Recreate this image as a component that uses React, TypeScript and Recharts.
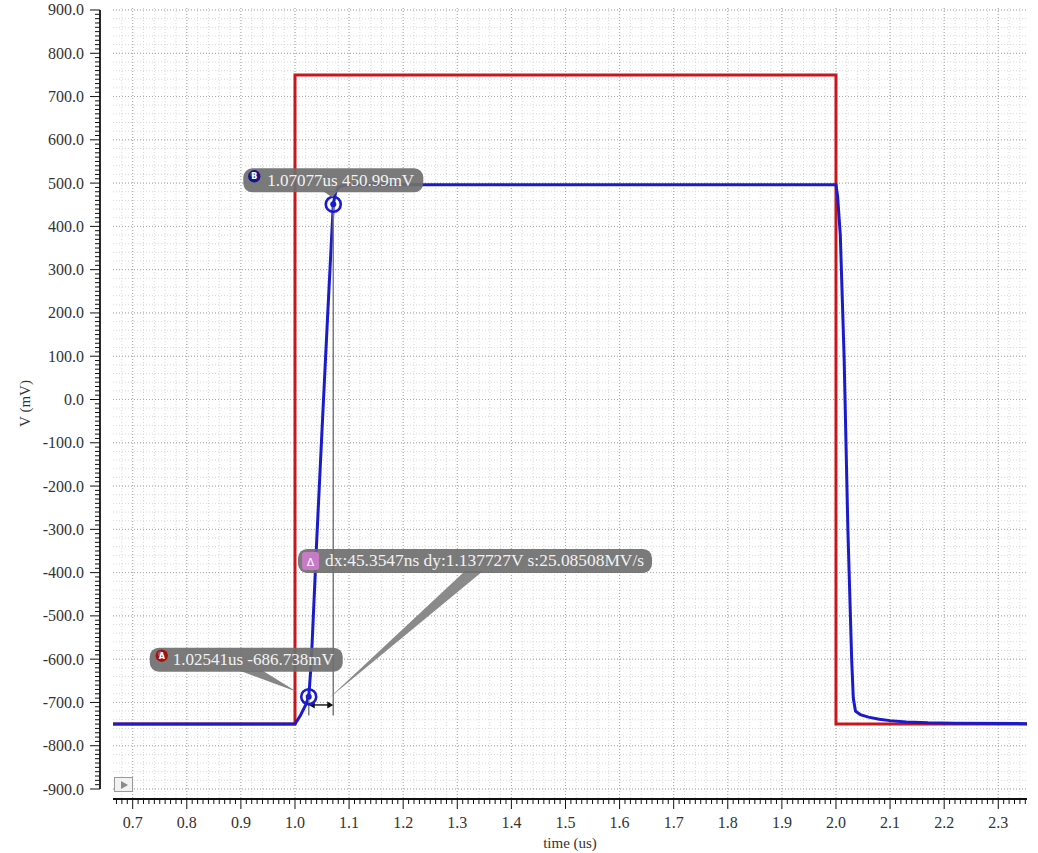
import React from 'react';
import {
  LineChart,
  Line,
  XAxis,
  YAxis,
  CartesianGrid,
  ReferenceDot,
  ReferenceLine,
  Customized,
} from 'recharts';

// stimulus (red) and response (blue) waveforms, time in us, voltage in mV
const stimTime = [0.6636, 1.0, 1.0, 2.0, 2.0, 2.3531];
const stimVolt = [-750, -750, 750, 750, -750, -750];

const outTime = [
  0.6636, 1.0, 1.01, 1.02, 1.02541, 1.03, 1.04, 1.05, 1.06, 1.07077, 1.075, 1.08, 1.09, 1.1,
  2.0, 2.003, 2.008, 2.015, 2.022, 2.029, 2.032, 2.036, 2.045, 2.06, 2.08, 2.1, 2.13, 2.17,
  2.22, 2.3531,
];
const outVolt = [
  -750, -750, -730, -705, -686.738, -610, -330, -70, 185, 450.99, 478, 490, 495, 496,
  496, 470, 380, 100, -300, -600, -690, -720, -728, -734, -739, -742, -745, -747,
  -748, -749,
];

const xMajorTicks = [0.7, 0.8, 0.9, 1.0, 1.1, 1.2, 1.3, 1.4, 1.5, 1.6, 1.7, 1.8, 1.9, 2.0, 2.1, 2.2, 2.3];
const yMajorTicks = [-900, -800, -700, -600, -500, -400, -300, -200, -100, 0, 100, 200, 300, 400, 500, 600, 700, 800, 900];

// cursor markers
const markerA = { t: 1.02541, v: -686.738, text: '1.02541us -686.738mV' };
const markerB = { t: 1.07077, v: 450.99, text: '1.07077us 450.99mV' };
const deltaText = 'dx:45.3547ns dy:1.137727V s:25.08508MV/s';
const deltaY = -705.8;
const cursorFoot = -730;

const X_MIN = 0.6636;
const X_MAX = 2.3531;
const Y_MIN = -923.1;
const Y_MAX = 904.6;

const FONT = "'Liberation Serif', 'DejaVu Serif', serif";
const RED = '#c8161d';
const BLUE = '#1a1ccc';

const stimData = stimTime.map((t, i) => ({ t, v: stimVolt[i] }));
const outData = outTime.map((t, i) => ({ t, v: outVolt[i] }));

// minor ticks every 0.01us / 10mV, minor grid every 0.02us / 20mV
const xTicks: number[] = [];
for (let i = 67; i <= 235; i++) xTicks.push(i / 100);
const yTicks: number[] = [];
for (let i = -90; i <= 90; i++) yTicks.push(i * 10);
const xMinorGrid: number[] = [];
for (let i = 34; i <= 117; i++) xMinorGrid.push(i / 50);
const yMinorGrid: number[] = [];
for (let i = -45; i <= 45; i++) yMinorGrid.push(i * 20);

const isMajor = (v: number, step: number) => Math.abs(v / step - Math.round(v / step)) < 1e-6;

const XTick = (props: any) => {
  const { x, y, payload } = props;
  const major = isMajor(payload.value, 0.1);
  return (
    <g>
      <line x1={x} x2={x} y1={y} y2={y + (major ? 10 : 5)} stroke="#111" strokeWidth={1} />
      {major && (
        <text x={x} y={y + 29} textAnchor="middle" fontFamily={FONT} fontSize={16} fill="#333">
          {payload.value.toFixed(1)}
        </text>
      )}
    </g>
  );
};

const YTick = (props: any) => {
  const { x, y, payload } = props;
  const ax = x - 13;
  const major = isMajor(payload.value, 100);
  return (
    <g>
      <line x1={ax - (major ? 10 : 5)} x2={ax} y1={y} y2={y} stroke="#111" strokeWidth={1} />
      {major && (
        <text x={ax - 16} y={y + 5.5} textAnchor="end" fontFamily={FONT} fontSize={16} fill="#333">
          {payload.value.toFixed(1)}
        </text>
      )}
    </g>
  );
};

const AxisDecor = () => (
  <g>
    <line x1={100} x2={100} y1={10} y2={789} stroke="#111" strokeWidth={1.8} />
    <rect x={114.5} y={777.5} width={18} height={14} fill="#f2f2f2" stroke="#9a9a9a" />
    <polygon points="121,781 121,789 128,785" fill="#8a8a8a" />
  </g>
);

const Ring = ({ cx, cy }: any) => (
  <g>
    <circle cx={cx} cy={cy} r={7.5} fill="none" stroke={BLUE} strokeWidth={2.6} />
    <circle cx={cx} cy={cy} r={3} fill={BLUE} />
  </g>
);

const Badge = ({ x, y, color, letter }: any) => (
  <g>
    <circle cx={x} cy={y} r={6.2} fill={color} />
    <circle cx={x - 1.5} cy={y - 2} r={2.5} fill="#fff" opacity={0.25} />
    <text x={x} y={y + 3} textAnchor="middle" fontFamily="'DejaVu Sans', sans-serif" fontSize={8} fontWeight="bold" fill="#fff">
      {letter}
    </text>
  </g>
);

const LabelB = ({ cx, cy }: any) => (
  <g>
    <polygon points={`${cx - 10},${cy - 13} ${cx + 4},${cy - 13} ${cx - 1},${cy - 7}`} fill="#7d7d7d" />
    <rect x={cx - 90} y={cy - 36} width={180} height={24} rx={9} fill="#6f6f6f" opacity={0.92} />
    <Badge x={cx - 79} y={cy - 28} color="#14148c" letter="B" />
    <text x={cx - 66} y={cy - 18} fontFamily={FONT} fontSize={17} fill="#f2f2f2">
      {markerB.text}
    </text>
  </g>
);

const LabelA = ({ cx, cy }: any) => (
  <g>
    <polygon points={`${cx - 69},${cy - 26} ${cx - 46},${cy - 26} ${cx - 12},${cy - 5}`} fill="#858585" />
    <rect x={cx - 159} y={cy - 49} width={193} height={24} rx={9} fill="#6f6f6f" opacity={0.92} />
    <Badge x={cx - 147} y={cy - 41} color="#a01010" letter="A" />
    <text x={cx - 136} y={cy - 32} fontFamily={FONT} fontSize={17} fill="#f2f2f2">
      {markerA.text}
    </text>
  </g>
);

const LabelDelta = ({ cx, cy }: any) => (
  <g>
    <polygon points={`${cx + 144},${cy - 134} ${cx + 162},${cy - 134} ${cx + 7},${cy - 6}`} fill="#8a8a8a" />
    <rect x={cx - 23} y={cy - 156} width={354} height={24} rx={9} fill="#6f6f6f" opacity={0.92} />
    <rect x={cx - 19} y={cy - 153} width={17} height={18} rx={3} fill="#c77bc7" />
    <text x={cx - 10.5} y={cy - 139} textAnchor="middle" fontFamily="'DejaVu Sans', sans-serif" fontSize={11} fill="#fff">
      Δ
    </text>
    <text x={cx + 4} y={cy - 139} fontFamily={FONT} fontSize={17.4} fill="#f2f2f2">
      {deltaText}
    </text>
  </g>
);

const Arrow = (props: any) => {
  const { x1, y1, x2 } = props;
  const l = Math.min(x1, x2);
  const r = Math.max(x1, x2);
  return (
    <g>
      <line x1={l + 2} x2={r - 2} y1={y1} y2={y1} stroke="#111" strokeWidth={1.4} />
      <polygon points={`${l},${y1} ${l + 6},${y1 - 3.5} ${l + 6},${y1 + 3.5}`} fill="#111" />
      <polygon points={`${r},${y1} ${r - 6},${y1 - 3.5} ${r - 6},${y1 + 3.5}`} fill="#111" />
    </g>
  );
};

export default function App() {
  return (
    <div style={{ position: 'absolute', left: 0, top: 0, width: 1038, height: 853, background: '#fff' }}>
      <LineChart width={1038} height={853} margin={{ top: 8, right: 11, bottom: 0, left: 0 }}>
        <CartesianGrid
          stroke="#d9d9d9"
          strokeDasharray="1 2"
          verticalValues={xMinorGrid}
          horizontalValues={yMinorGrid}
        />
        <CartesianGrid
          stroke="#a8a8a8"
          strokeDasharray="1 2"
          verticalValues={xMajorTicks}
          horizontalValues={yMajorTicks}
        />
        <XAxis
          type="number"
          dataKey="t"
          domain={[X_MIN, X_MAX]}
          allowDataOverflow
          ticks={xTicks}
          interval={0}
          tick={XTick}
          tickLine={false}
          tickSize={0}
          tickMargin={0}
          height={54}
          axisLine={{ stroke: '#111', strokeWidth: 1.8 }}
          label={{ value: 'time (us)', position: 'insideBottom', offset: 5, fontFamily: FONT, fontSize: 15, fill: '#333' }}
        />
        <YAxis
          type="number"
          domain={[Y_MIN, Y_MAX]}
          allowDataOverflow
          ticks={yTicks}
          interval={0}
          tick={YTick}
          tickLine={false}
          tickSize={0}
          tickMargin={0}
          width={113}
          axisLine={false}
          label={{
            value: 'V (mV)',
            angle: -90,
            position: 'insideLeft',
            offset: 25,
            style: { textAnchor: 'middle' },
            fontFamily: FONT,
            fontSize: 15,
            fill: '#333',
          }}
        />
        <Customized component={AxisDecor} />
        <Line
          data={stimData}
          dataKey="v"
          type="linear"
          stroke={RED}
          strokeWidth={3}
          dot={false}
          activeDot={false}
          isAnimationActive={false}
        />
        <Line
          data={outData}
          dataKey="v"
          type="linear"
          stroke={BLUE}
          strokeWidth={3}
          dot={false}
          activeDot={false}
          isAnimationActive={false}
        />
        <ReferenceLine
          segment={[{ x: markerA.t, y: markerA.v }, { x: markerA.t, y: cursorFoot }]}
          stroke="#7a7a7a"
          strokeWidth={1.5}
        />
        <ReferenceLine
          segment={[{ x: markerB.t, y: markerB.v }, { x: markerB.t, y: cursorFoot }]}
          stroke="#7a7a7a"
          strokeWidth={1.5}
        />
        <ReferenceLine
          segment={[{ x: markerA.t, y: deltaY }, { x: markerB.t, y: deltaY }]}
          shape={Arrow}
        />
        <ReferenceDot x={markerA.t} y={markerA.v} shape={Ring} />
        <ReferenceDot x={markerB.t} y={markerB.v} shape={Ring} />
        <ReferenceDot x={(markerA.t + markerB.t) / 2} y={deltaY} shape={LabelDelta} />
        <ReferenceDot x={markerA.t} y={markerA.v} shape={LabelA} />
        <ReferenceDot x={markerB.t} y={markerB.v} shape={LabelB} />
      </LineChart>
    </div>
  );
}
